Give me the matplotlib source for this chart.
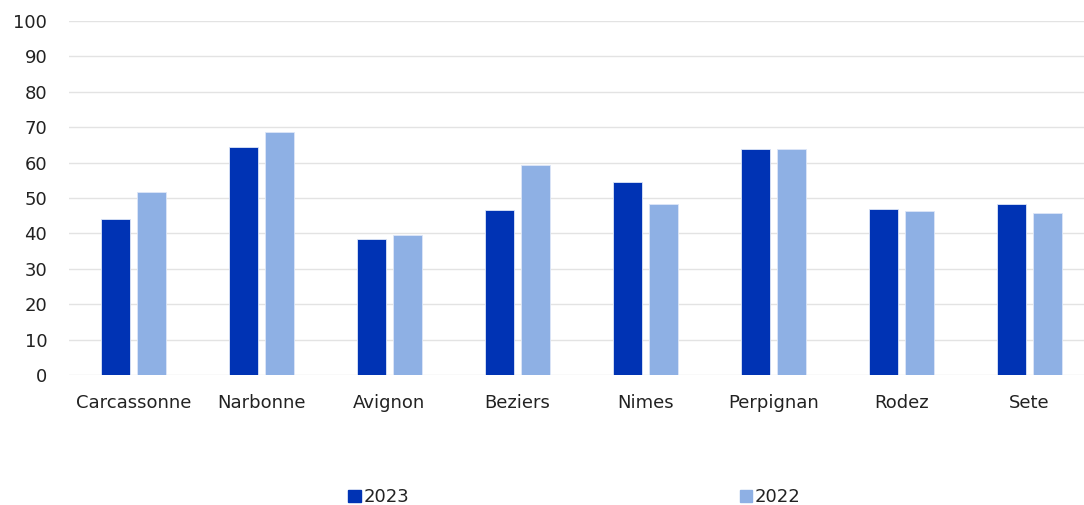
import numpy as np
import matplotlib.pyplot as plt
from matplotlib.patches import Patch

cities = ['Carcassonne', 'Narbonne', 'Avignon', 'Beziers', 'Nimes',
          'Perpignan', 'Rodez', 'Sete']
vals_2023 = [44.1, 64.5, 38.3, 46.5, 54.6, 63.9, 47.0, 48.2]
vals_2022 = [51.8, 68.6, 39.5, 59.3, 48.2, 63.9, 46.4, 45.8]

c2023 = '#0033B4'
c2022 = '#8EB0E4'

plt.rcParams['font.family'] = ['DejaVu Sans']

fig = plt.figure(figsize=(10.84, 5.05), dpi=100)
# axes runs a bit past the right edge, like the original
ax = fig.add_axes([0.0641, 0.2574, 0.9446, 0.7010])

x = np.arange(len(cities))
w = 0.228
off = 0.143
ax.bar(x - off, vals_2023, width=w, color=c2023, edgecolor='#DDE6F7', linewidth=0.6, zorder=3)
ax.bar(x + off, vals_2022, width=w, color=c2022, edgecolor='#DDE6F7', linewidth=0.6, zorder=3)

ax.set_xlim(-0.5, len(cities) - 0.5)
ax.set_ylim(0, 100)
ax.set_yticks(range(0, 101, 10))
ax.set_xticks(x)
ax.set_xticklabels(cities)
ax.yaxis.grid(True, color='#E3E3E3', linewidth=1.0, zorder=0)
ax.set_axisbelow(True)
for s in ax.spines.values():
    s.set_visible(False)
ax.tick_params(axis='both', length=0, labelsize=13, colors='#222222')
ax.tick_params(axis='x', pad=14)
ax.tick_params(axis='y', pad=16)

handles = [Patch(color=c2023, label='2023'), Patch(color=c2022, label='2022')]
fig.legend(handles=handles, loc='center', bbox_to_anchor=(0.530, 0.015),
           ncol=2, frameon=False, fontsize=13, handlelength=0.7, handleheight=0.7,
           handletextpad=0.15, columnspacing=18.3, labelcolor='#222222')

fig.savefig('out.png', dpi=100)
